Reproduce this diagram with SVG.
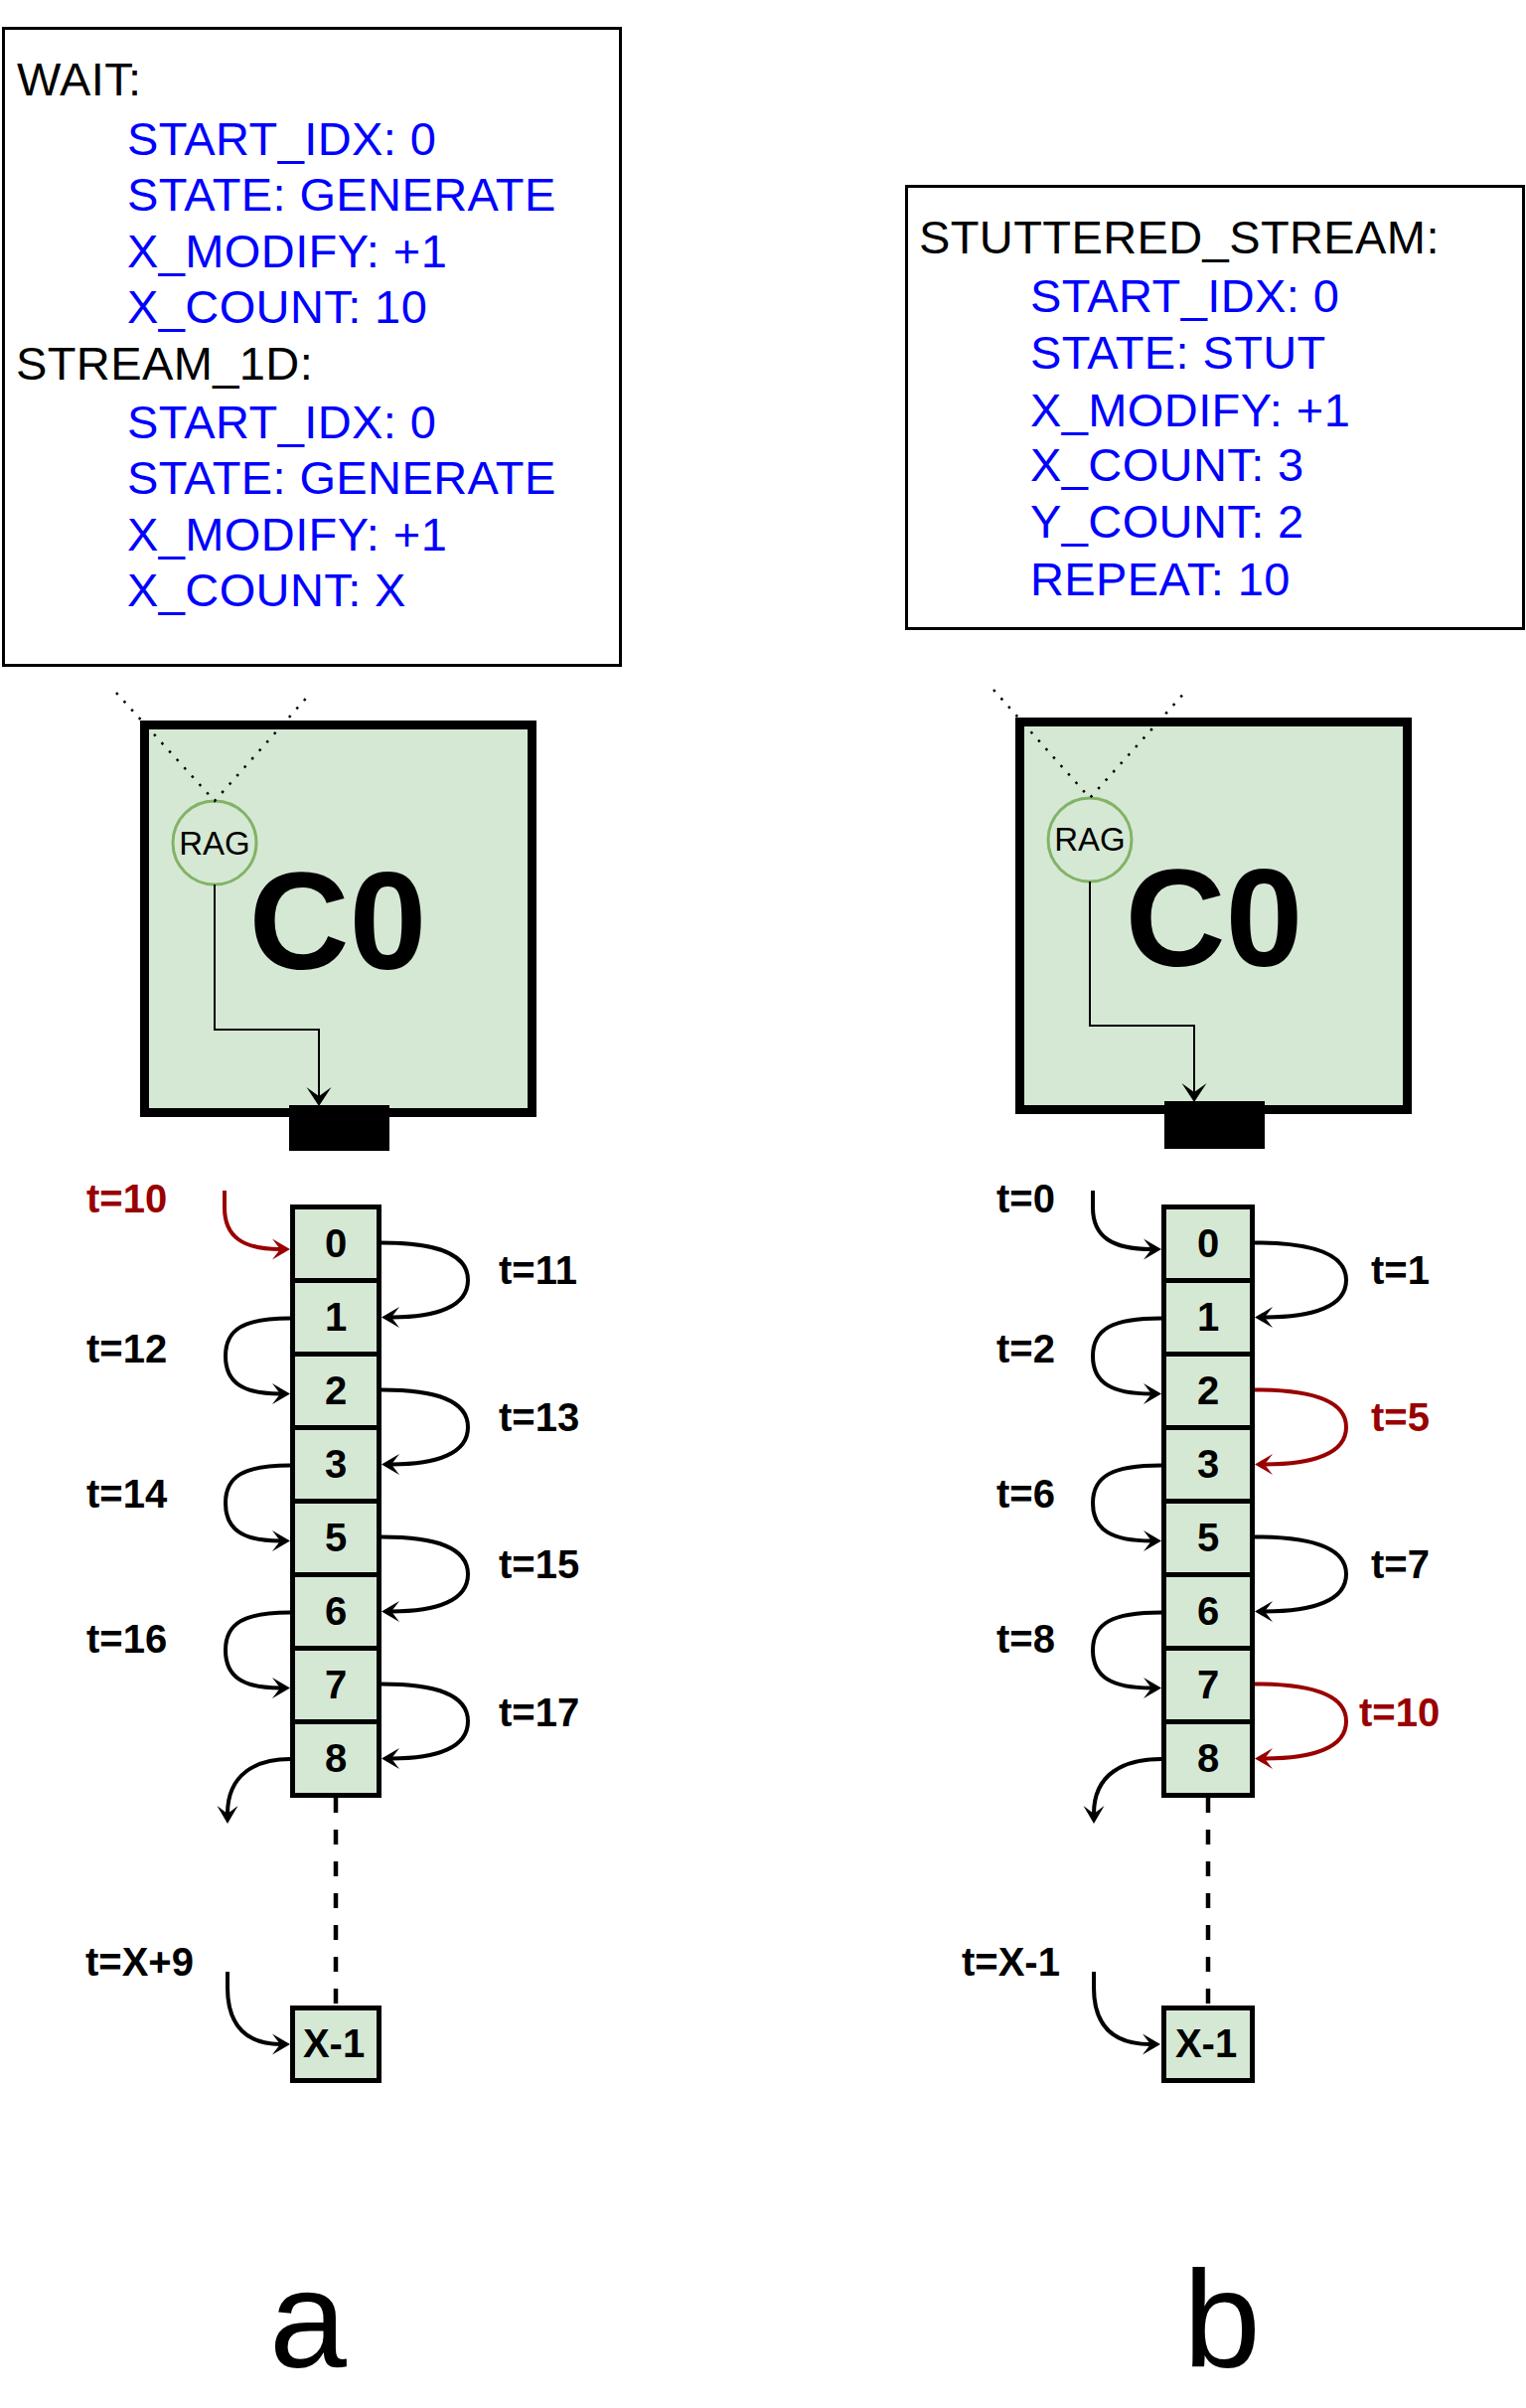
<svg xmlns="http://www.w3.org/2000/svg" width="1536" height="2423" viewBox="0 0 1536 2423">
<defs>
<style>
text { font-family: "Liberation Sans", Arial, Helvetica, sans-serif; }
.cfg { font-size: 47px; letter-spacing: 0.4px; }
.blu { fill: #0000ff; }
.frame { fill: #ffffff; stroke: #000; stroke-width: 3; }
.core { fill: #d5e8d4; stroke: #000; stroke-width: 9; }
.port { fill: #000; }
.rag { fill: #d5e8d4; stroke: #82b366; stroke-width: 3; }
.ragt { font-size: 33px; text-anchor: middle; }
.c0 { font-size: 140px; font-weight: bold; text-anchor: middle; }
.cell { fill: #d5e8d4; stroke: #000; stroke-width: 5; }
.num { font-size: 40px; font-weight: bold; text-anchor: middle; }
.t { font-size: 40px; font-weight: bold; }
.red { fill: #990000; }
.lp { fill: none; stroke: #000; stroke-width: 4; marker-end: url(#ah); }
.lpr { fill: none; stroke: #990000; stroke-width: 4; marker-end: url(#ahr); }
.inner { fill: none; stroke: #000; stroke-width: 2; marker-end: url(#ahs); }
.dot { fill: none; stroke: #000; stroke-width: 2.5; stroke-dasharray: 2.5 8.8; }
.dash { fill: none; stroke: #000; stroke-width: 4.5; stroke-dasharray: 15 17; }
.cap { font-size: 140px; text-anchor: middle; }
</style>
<marker id="ah" markerUnits="userSpaceOnUse" orient="auto" viewBox="-9 -12 21 24" markerWidth="21" markerHeight="24" refX="0" refY="0">
<path d="M10 0 L-8 -10.5 L0 0 L-8 10.5 Z" fill="#000"/>
</marker>
<marker id="ahr" markerUnits="userSpaceOnUse" orient="auto" viewBox="-9 -12 21 24" markerWidth="21" markerHeight="24" refX="0" refY="0">
<path d="M10 0 L-8 -10.5 L0 0 L-8 10.5 Z" fill="#990000"/>
</marker>
<marker id="ahs" markerUnits="userSpaceOnUse" orient="auto" viewBox="-10 -13 21 26" markerWidth="21" markerHeight="26" refX="0" refY="0">
<path d="M10 0 L-9 -12.5 L0 0 L-9 12.5 Z" fill="#000"/>
</marker>
</defs>
<rect width="1536" height="2423" fill="#ffffff"/>

<g id="config-a">
<rect class="frame" x="3.5" y="28.5" width="621" height="641"/>
<text class="cfg" x="17" y="96">WAIT:</text>
<text class="cfg blu" x="128" y="156">START_IDX: 0</text>
<text class="cfg blu" x="128" y="212">STATE: GENERATE</text>
<text class="cfg blu" x="128" y="269">X_MODIFY: +1</text>
<text class="cfg blu" x="128" y="325">X_COUNT: 10</text>
<text class="cfg" x="16" y="382">STREAM_1D:</text>
<text class="cfg blu" x="128" y="441">START_IDX: 0</text>
<text class="cfg blu" x="128" y="497">STATE: GENERATE</text>
<text class="cfg blu" x="128" y="554">X_MODIFY: +1</text>
<text class="cfg blu" x="128" y="610">X_COUNT: X</text>
</g>

<g id="config-b">
<rect class="frame" x="912.5" y="187.5" width="621" height="445"/>
<text class="cfg" x="925" y="255">STUTTERED_STREAM:</text>
<text class="cfg blu" x="1037" y="314">START_IDX: 0</text>
<text class="cfg blu" x="1037" y="371">STATE: STUT</text>
<text class="cfg blu" x="1037" y="429">X_MODIFY: +1</text>
<text class="cfg blu" x="1037" y="484">X_COUNT: 3</text>
<text class="cfg blu" x="1037" y="541">Y_COUNT: 2</text>
<text class="cfg blu" x="1037" y="599">REPEAT: 10</text>
</g>

<g id="core-a">
<rect class="core" x="145.5" y="729.5" width="390" height="390"/>
<rect class="port" x="291" y="1112" width="101" height="46"/>
<text class="c0" x="340" y="975">C0</text>
</g>
<g id="rag-a">
<circle class="rag" cx="216" cy="848" r="42"/>
<text class="ragt" x="216" y="860">RAG</text>
</g>

<g id="core-b">
<rect class="core" x="1026.5" y="726.5" width="390" height="390"/>
<rect class="port" x="1172" y="1108" width="101" height="48"/>
<text class="c0" x="1222" y="972">C0</text>
</g>
<g id="rag-b">
<circle class="rag" cx="1097" cy="845" r="42"/>
<text class="ragt" x="1097" y="856">RAG</text>
</g>

<g id="cells-a">
<g id="a-cell-0"><rect class="cell" x="294.5" y="1214.5" width="87" height="74"/><text class="num" x="338" y="1265">0</text></g>
<g id="a-cell-1"><rect class="cell" x="294.5" y="1288.5" width="87" height="74"/><text class="num" x="338" y="1339">1</text></g>
<g id="a-cell-2"><rect class="cell" x="294.5" y="1362.5" width="87" height="74"/><text class="num" x="338" y="1413">2</text></g>
<g id="a-cell-3"><rect class="cell" x="294.5" y="1436.5" width="87" height="74"/><text class="num" x="338" y="1487">3</text></g>
<g id="a-cell-5"><rect class="cell" x="294.5" y="1510.5" width="87" height="74"/><text class="num" x="338" y="1561">5</text></g>
<g id="a-cell-6"><rect class="cell" x="294.5" y="1584.5" width="87" height="74"/><text class="num" x="338" y="1635">6</text></g>
<g id="a-cell-7"><rect class="cell" x="294.5" y="1658.5" width="87" height="74"/><text class="num" x="338" y="1709">7</text></g>
<g id="a-cell-8"><rect class="cell" x="294.5" y="1732.5" width="87" height="74"/><text class="num" x="338" y="1783">8</text></g>
<g id="a-cell-x"><rect class="cell" x="294.5" y="2020.5" width="87" height="73"/><text class="num" x="336" y="2070">X-1</text></g>
</g>

<g id="cells-b">
<g id="b-cell-0"><rect class="cell" x="1171.5" y="1214.5" width="89" height="74"/><text class="num" x="1216" y="1265">0</text></g>
<g id="b-cell-1"><rect class="cell" x="1171.5" y="1288.5" width="89" height="74"/><text class="num" x="1216" y="1339">1</text></g>
<g id="b-cell-2"><rect class="cell" x="1171.5" y="1362.5" width="89" height="74"/><text class="num" x="1216" y="1413">2</text></g>
<g id="b-cell-3"><rect class="cell" x="1171.5" y="1436.5" width="89" height="74"/><text class="num" x="1216" y="1487">3</text></g>
<g id="b-cell-5"><rect class="cell" x="1171.5" y="1510.5" width="89" height="74"/><text class="num" x="1216" y="1561">5</text></g>
<g id="b-cell-6"><rect class="cell" x="1171.5" y="1584.5" width="89" height="74"/><text class="num" x="1216" y="1635">6</text></g>
<g id="b-cell-7"><rect class="cell" x="1171.5" y="1658.5" width="89" height="74"/><text class="num" x="1216" y="1709">7</text></g>
<g id="b-cell-8"><rect class="cell" x="1171.5" y="1732.5" width="89" height="74"/><text class="num" x="1216" y="1783">8</text></g>
<g id="b-cell-x"><rect class="cell" x="1171.5" y="2020.5" width="89" height="73"/><text class="num" x="1214" y="2070">X-1</text></g>
</g>

<g id="connectors">
<path class="dot" d="M117 697 L216 806 L313 697"/>
<path class="dot" d="M1000 694 L1097 803 L1195 694"/>
<path class="inner" d="M216 890 L216 1036 L321 1036 L321 1103"/>
<path class="inner" d="M1097 887 L1097 1032 L1202 1032 L1202 1099"/>

<path class="dash" d="M338 1809 L338 2018"/>
<path class="dash" d="M1216 1809 L1216 2018"/>

<path class="lpr" d="M226 1198 L226 1215 C226 1245 245 1257 282 1257"/>
<path class="lp" d="M384 1250.5 C440 1250.5 471 1261.5 471 1288 C471 1314.5 440 1325.5 394 1325.5"/>
<path class="lp" d="M292 1326.5 C245 1326.5 227 1337.5 227 1364.5 C227 1391.5 245 1402.5 282 1402.5"/>
<path class="lp" d="M384 1398.5 C440 1398.5 471 1409.5 471 1436 C471 1462.5 440 1473.5 394 1473.5"/>
<path class="lp" d="M292 1474.5 C245 1474.5 227 1485.5 227 1512.5 C227 1539.5 245 1550.5 282 1550.5"/>
<path class="lp" d="M384 1546.5 C440 1546.5 471 1557.5 471 1584 C471 1610.5 440 1621.5 394 1621.5"/>
<path class="lp" d="M292 1622.5 C245 1622.5 227 1633.5 227 1660.5 C227 1687.5 245 1698.5 282 1698.5"/>
<path class="lp" d="M384 1694.5 C440 1694.5 471 1705.5 471 1732 C471 1758.5 440 1769.5 394 1769.5"/>
<path class="lp" d="M292 1770 C258 1770 229 1785 229 1825"/>
<path class="lp" d="M229 1984 L229 2000 C229 2040 250 2057 282 2057"/>

<path class="lp" d="M1100 1198 L1100 1215 C1100 1245 1120 1257 1159 1257"/>
<path class="lp" d="M1263 1250.5 C1322 1250.5 1355 1261.5 1355 1288 C1355 1314.5 1322 1325.5 1273 1325.5"/>
<path class="lp" d="M1169 1326.5 C1119 1326.5 1100 1337.5 1100 1364.5 C1100 1391.5 1119 1402.5 1159 1402.5"/>
<path class="lpr" d="M1263 1398.5 C1322 1398.5 1355 1409.5 1355 1436 C1355 1462.5 1322 1473.5 1273 1473.5"/>
<path class="lp" d="M1169 1474.5 C1119 1474.5 1100 1485.5 1100 1512.5 C1100 1539.5 1119 1550.5 1159 1550.5"/>
<path class="lp" d="M1263 1546.5 C1322 1546.5 1355 1557.5 1355 1584 C1355 1610.5 1322 1621.5 1273 1621.5"/>
<path class="lp" d="M1169 1622.5 C1119 1622.5 1100 1633.5 1100 1660.5 C1100 1687.5 1119 1698.5 1159 1698.5"/>
<path class="lpr" d="M1263 1694.5 C1322 1694.5 1355 1705.5 1355 1732 C1355 1758.5 1322 1769.5 1273 1769.5"/>
<path class="lp" d="M1169 1770 C1131 1770 1101 1785 1101 1825"/>
<path class="lp" d="M1101 1984 L1101 2000 C1101 2040 1122 2057 1158 2057"/>
</g>

<g id="labels">
<text class="t red" x="87" y="1220">t=10</text>
<text class="t" x="502" y="1292">t=11</text>
<text class="t" x="87" y="1371">t=12</text>
<text class="t" x="502" y="1440">t=13</text>
<text class="t" x="87" y="1517">t=14</text>
<text class="t" x="502" y="1588">t=15</text>
<text class="t" x="87" y="1663">t=16</text>
<text class="t" x="502" y="1737">t=17</text>
<text class="t" x="86" y="1988">t=X+9</text>

<text class="t" x="1003" y="1220">t=0</text>
<text class="t" x="1380" y="1292">t=1</text>
<text class="t" x="1003" y="1371">t=2</text>
<text class="t red" x="1380" y="1440">t=5</text>
<text class="t" x="1003" y="1517">t=6</text>
<text class="t" x="1380" y="1588">t=7</text>
<text class="t" x="1003" y="1663">t=8</text>
<text class="t red" x="1368" y="1737">t=10</text>
<text class="t" x="968" y="1988">t=X-1</text>

<text class="cap" x="310" y="2382">a</text>
<text class="cap" x="1230" y="2382">b</text>
</g>
</svg>
